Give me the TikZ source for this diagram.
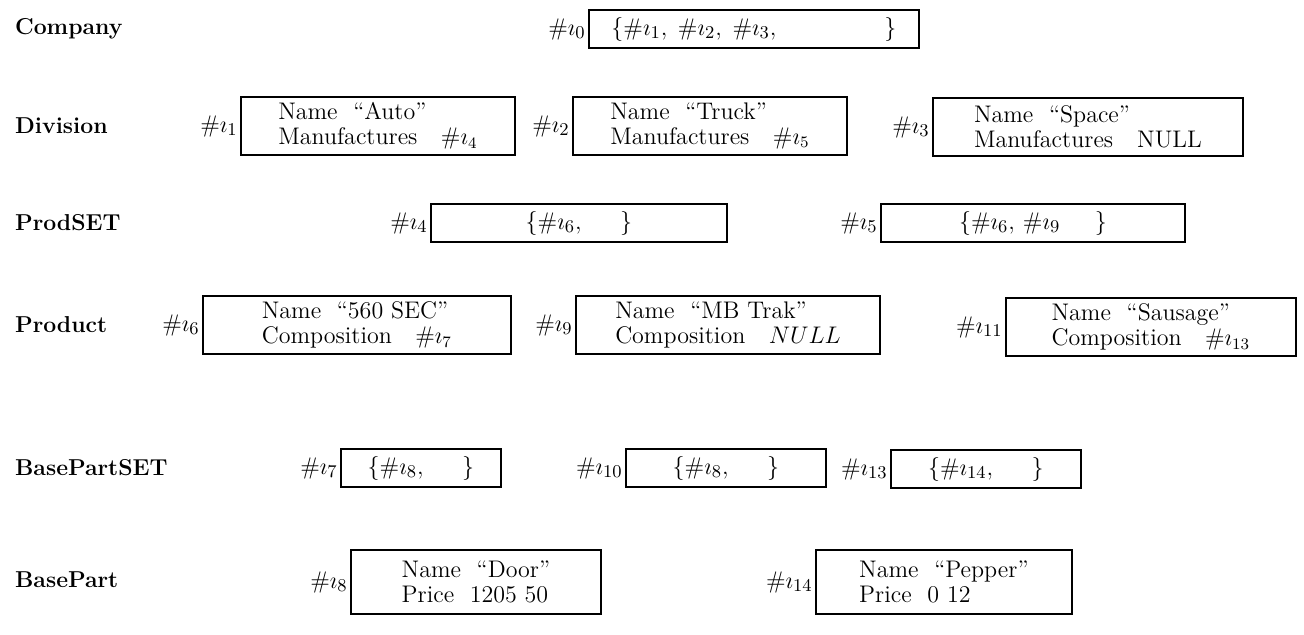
\documentclass[tikz,border=0pt]{standalone}
\usepackage{tikz}
\usetikzlibrary{positioning}

\begin{document}
\begin{tikzpicture}[x=0.5pt,y=-0.5pt,
                    class node/.style={anchor=west,font=\fontsize{11.5}{13}\selectfont\bfseries},
                    obj node/.style={draw,line width=0.9pt,anchor=west,align=left,inner sep=0pt,
                                     font=\fontsize{12}{12.3}\selectfont},
                    set node/.style={obj node,minimum height=19pt,font=\fontsize{13}{14}\selectfont},
                    rec node/.style={obj node,minimum height=29pt},
                    oid node/.style={anchor=east,inner sep=1pt,font=\fontsize{13}{15}\selectfont}]
  \useasboundingbox (0,0) rectangle (1304,634);
  % class names
  \node[class node] (company) at (8,29)  {Company};
  \node[class node] (division) at (8,126) {Division};
  \node[class node] (prodset) at (8,223)  {ProdSET};
  \node[class node] (product) at (8,325)  {Product};
  \node[class node] (bpset) at (8,468)    {BasePartSET};
  \node[class node] (basepart) at (8,580) {BasePart};
  % Company
  \node[set node,minimum width=165pt] (o0) at (588,29) {$\{\#\imath_1,\; \#\imath_2,\; \#\imath_3, \qquad\qquad\}$};
  \node[oid node] (id0) at (o0.west) {$\#\imath_0$};
  % Division
  \node[rec node,minimum width=137pt] (o1) at (240,126) {Name\ \ ``Auto''\\Manufactures\ \ \ $\#\imath_4$};
  \node[oid node] (id1) at (o1.west) {$\#\imath_1$};
  \node[rec node,minimum width=137pt] (o2) at (572,126) {Name\ \ ``Truck''\\Manufactures\ \ \ $\#\imath_5$};
  \node[oid node] (id2) at (o2.west) {$\#\imath_2$};
  \node[rec node,minimum width=155pt] (o3) at (932,127) {Name\ \ ``Space''\\Manufactures\quad NULL};
  \node[oid node] (id3) at (o3.west) {$\#\imath_3$};
  % ProdSET
  \node[set node,minimum width=148pt] (o4) at (430,223) {$\{\#\imath_6, \quad\ \}$};
  \node[oid node] (id4) at (o4.west) {$\#\imath_4$};
  \node[set node,minimum width=152pt] (o5) at (880,223) {$\{\#\imath_6,\, \#\imath_9 \quad\ \}$};
  \node[oid node] (id5) at (o5.west) {$\#\imath_5$};
  % Product
  \node[rec node,minimum width=154pt] (o6) at (202,325) {Name\ \ ``560 SEC''\\Composition\ \ \ $\#\imath_7$};
  \node[oid node] (id6) at (o6.west) {$\#\imath_6$};
  \node[rec node,minimum width=152pt] (o9) at (575,325) {Name\ \ ``MB Trak''\\Composition\ \ \ $NULL$};
  \node[oid node] (id9) at (o9.west) {$\#\imath_9$};
  \node[rec node,minimum width=145pt] (o11) at (1005,327) {Name\ \ ``Sausage''\\Composition\ \ \ $\#\imath_{13}$};
  \node[oid node] (id11) at (o11.west) {$\#\imath_{11}$};
  % BasePartSET
  \node[set node,minimum width=80pt] (o7) at (340,468) {$\{\#\imath_8, \quad\ \}$};
  \node[oid node] (id7) at (o7.west) {$\#\imath_7$};
  \node[set node,minimum width=100pt] (o10) at (625,468) {$\{\#\imath_8, \quad\ \}$};
  \node[oid node] (id10) at (o10.west) {$\#\imath_{10}$};
  \node[set node,minimum width=95pt] (o13) at (890,469) {$\{\#\imath_{14}, \quad\ \}$};
  \node[oid node] (id13) at (o13.west) {$\#\imath_{13}$};
  % BasePart
  \node[rec node,minimum width=125pt,minimum height=32pt] (o8) at (350,582) {Name\ \ ``Door''\\Price\ \ 1205 50};
  \node[oid node] (id8) at (o8.west) {$\#\imath_8$};
  \node[rec node,minimum width=128pt,minimum height=32pt] (o14) at (815,582) {Name\ \ ``Pepper''\\Price\ \ 0 12};
  \node[oid node] (id14) at (o14.west) {$\#\imath_{14}$};
\end{tikzpicture}
\end{document}
